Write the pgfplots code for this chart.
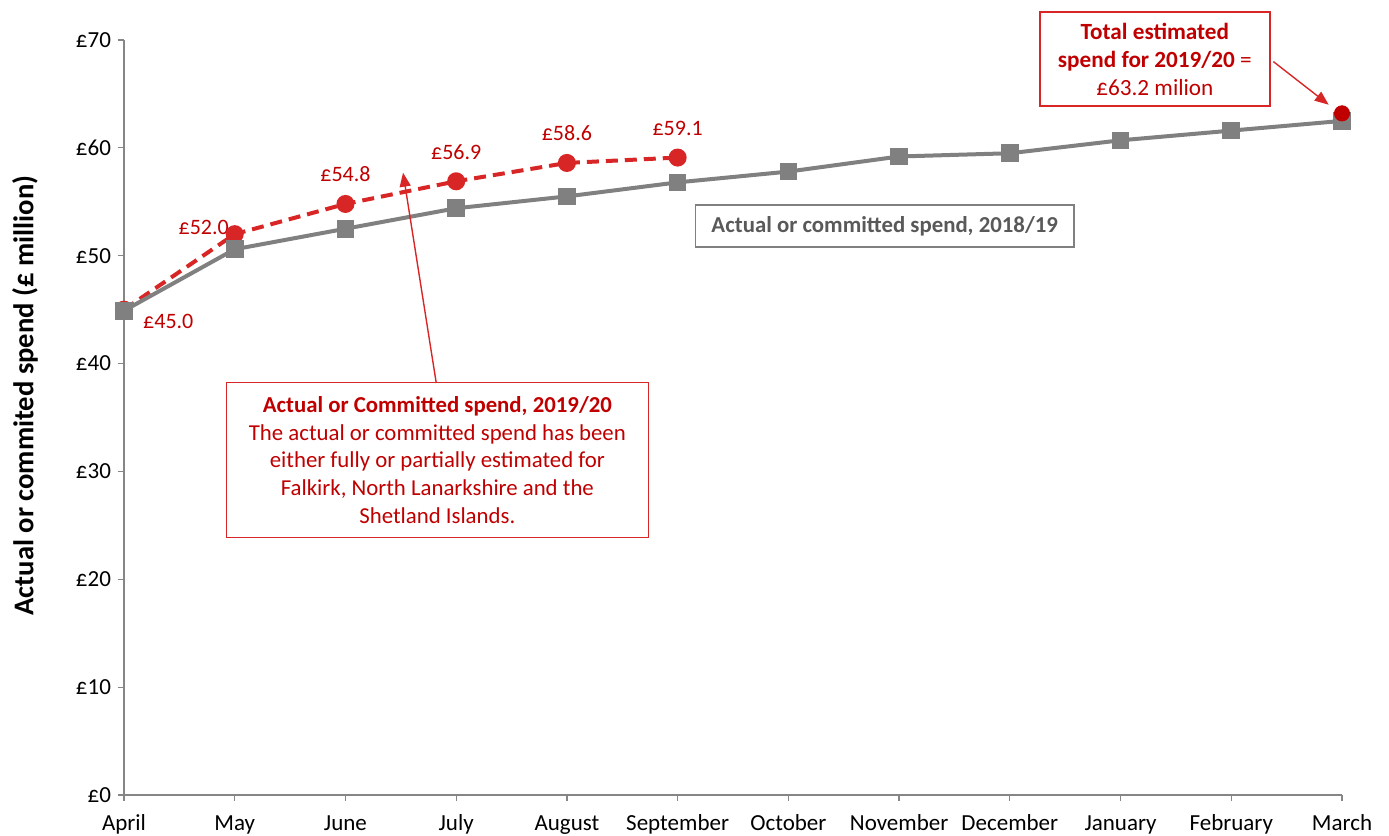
\documentclass[border=0pt]{standalone}
\usepackage{pgfplots}
\pgfplotsset{compat=1.18}
\usetikzlibrary{arrows.meta}
\usepackage{fontspec}
\setmainfont{Carlito}
\definecolor{redline}{RGB}{216,38,38}
\definecolor{redtext}{RGB}{192,0,0}
\definecolor{reddot}{RGB}{192,0,0}
\definecolor{greyline}{RGB}{128,128,128}
\definecolor{greytext}{RGB}{89,89,89}
\definecolor{axisgrey}{RGB}{134,134,134}
\begin{document}
\begin{tikzpicture}
\path[use as bounding box] (-62pt,-20.5pt) rectangle (632.5pt,397.5pt);
\begin{axis}[
  at={(0,0)}, anchor=south west,
  scale only axis, width=609pt, height=377.5pt,
  xmin=0, xmax=11, ymin=0, ymax=70,
  axis x line=bottom, axis y line=left,
  axis line style={-, color=axisgrey, line width=0.8pt},
  tick align=outside, major tick length=3pt,
  tick style={color=axisgrey, line width=0.6pt},
  xtick={0,...,11},
  xticklabels={April,May,June,July,August,September,October,November,December,January,February,March},
  ytick={0,10,...,70},
  yticklabels={£0,£10,£20,£30,£40,£50,£60,£70},
  ticklabel style={font=\fontsize{11.5}{13}\selectfont, text=black},
  xticklabel style={yshift=-3pt, text height=8pt, text depth=2.5pt},
  ylabel={\textbf{Actual or commited spend (£ million)}},
  ylabel style={at={(axis description cs:-0.0813,0.529)}, anchor=center, font=\fontsize{14.3}{16}\selectfont},
  clip=false,
]
% 2019/20 actual or committed
\addplot[color=redline, line width=2pt, dash pattern=on 6pt off 3.5pt,
  mark=*, mark size=3.5pt, mark options={solid, fill=redline, draw=redline}]
  coordinates {(0,45.0) (1,52.0) (2,54.8) (3,56.9) (4,58.6) (5,59.1)};
% 2018/19
\addplot[color=greyline, line width=2pt, mark=square*, mark size=3.4pt,
  mark options={fill=greyline, draw=greyline}]
  coordinates {(0,44.9) (1,50.6) (2,52.5) (3,54.4) (4,55.5) (5,56.8) (6,57.8) (7,59.2) (8,59.5) (9,60.7) (10,61.6) (11,62.5)};
% Total estimated
\addplot[only marks, mark=*, mark size=3.8pt, mark options={fill=reddot, draw=reddot}]
  coordinates {(11,63.2)};
% data labels
\begin{scope}[every node/.style={font=\fontsize{11}{12}\selectfont, text=redtext}]
\node at (axis cs:0.40,43.9) {£45.0};
\node at (axis cs:0.72,52.6) {£52.0};
\node at (axis cs:2.00,57.6) {£54.8};
\node at (axis cs:3.00,59.6) {£56.9};
\node at (axis cs:4.00,61.4) {£58.6};
\node at (axis cs:5.00,61.8) {£59.1};
\end{scope}
% annotation boxes
\node[draw=redline, line width=0.8pt, fill=white, align=center, text=redtext,
  font=\fontsize{11.6}{14}\selectfont, inner sep=3pt, minimum width=115pt, minimum height=47pt]
  (tb) at (axis cs:9.31,68.24) {\textbf{Total estimated}\\\textbf{spend for 2019/20} =\\£63.2 milion};
\draw[-{Triangle[length=7pt,width=5.5pt]}, redline, line width=0.7pt] (axis cs:10.38,68.0) -- (axis cs:10.88,64.0);
\node[draw=redline, line width=0.8pt, fill=white, align=center, text=redtext,
  font=\fontsize{11.4}{13.8}\selectfont, inner sep=3pt, minimum width=211pt, minimum height=77.5pt]
  at (axis cs:2.83,31.06) {\textbf{Actual or Committed spend, 2019/20}\\The actual or committed spend has been\\either fully or partially estimated for\\Falkirk, North Lanarkshire and the\\Shetland Islands.};
\draw[-{Triangle[length=7pt,width=5.5pt]}, redline, line width=0.7pt] (axis cs:2.82,38.2) -- (axis cs:2.52,57.7);
\node[draw=greyline, line width=0.8pt, fill=white, text=greytext,
  font=\fontsize{11.4}{12}\selectfont, inner sep=3pt, minimum width=189pt, minimum height=21pt]
  at (axis cs:6.87,52.75) {\textbf{Actual or committed spend, 2018/19}};
\end{axis}
\end{tikzpicture}
\end{document}
